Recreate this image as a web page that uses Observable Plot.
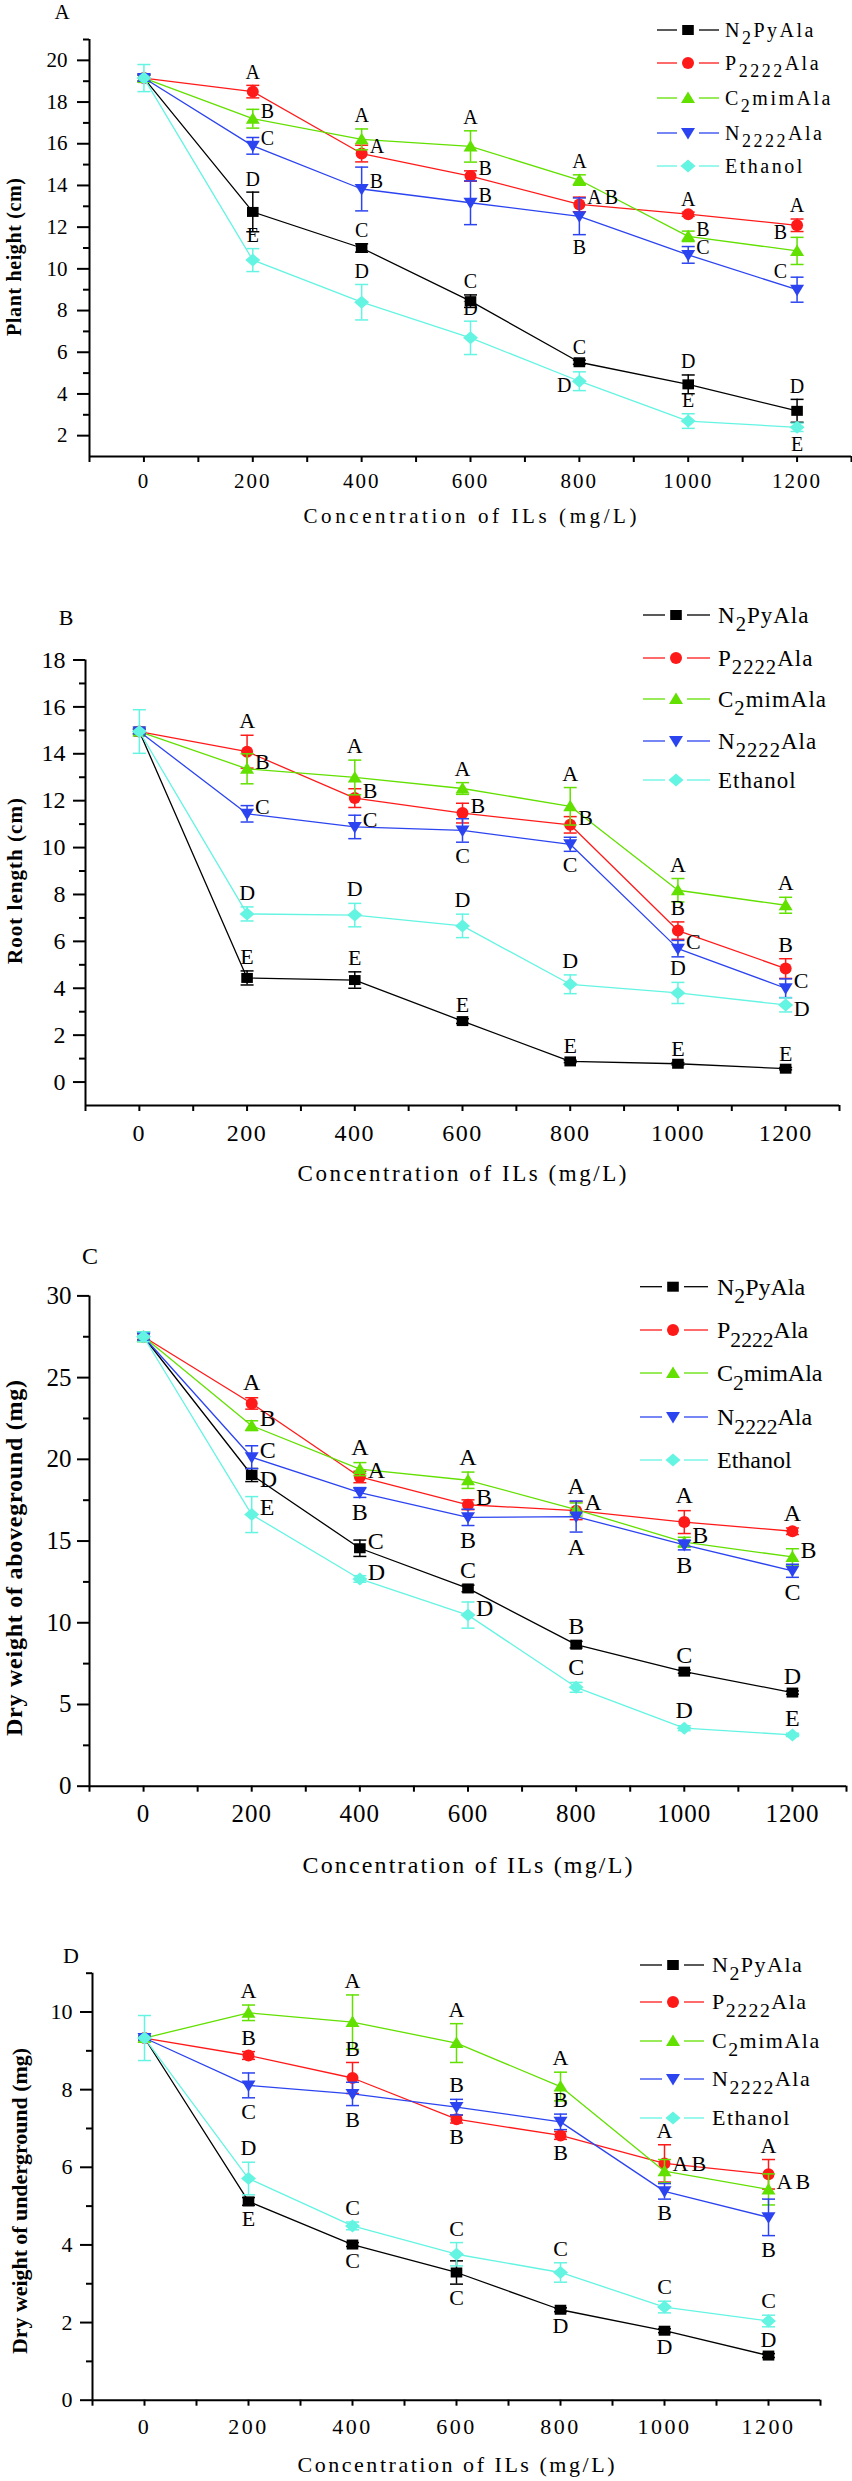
<!DOCTYPE html>
<html><head><meta charset="utf-8">
<script src="https://cdn.jsdelivr.net/npm/d3@7"></script>
<script src="https://cdn.jsdelivr.net/npm/@observablehq/plot@0.6"></script>
<style>
body{margin:0;background:#fff;}
#root{width:852px;}
#root svg{display:block;}
</style></head><body><div id="root"></div>
<script>
// ---------- shared data ----------
const conc = [0, 200, 400, 600, 800, 1000, 1200];
const minorConc = [-100, 100, 300, 500, 700, 900, 1100, 1300];
const seriesNames = ["N2PyAla", "P2222Ala", "C2mimAla", "N2222Ala", "Ethanol"];
const seriesColors = ["#000000", "#ff1a1a", "#62e000", "#2c44f0", "#64f4e2"];
const seriesSymbols = ["square", "circle", "triangle", "triangleDown", "diamond"];
const legendParts = [["N", "2", "PyAla"], ["P", "2222", "Ala"], ["C", "2", "mimAla"], ["N", "2222", "Ala"], ["Ethanol", "", ""]];
const xTitle = "Concentration of ILs (mg/L)";

// letter placement codes: t = above bar, b = below bar, r = right, rl = right-low, l = left, lt = left-high

// ---------- A: plant height ----------
const plantHeightMean = [
  [19.15, 12.73, 11.00, 8.45, 5.52, 4.46, 3.19],
  [19.15, 18.50, 15.53, 14.45, 13.09, 12.62, 12.09],
  [19.15, 17.20, 16.21, 15.87, 14.26, 11.56, 10.86],
  [19.15, 15.90, 13.83, 13.17, 12.52, 10.67, 9.00],
  [19.15, 10.42, 8.40, 6.69, 4.61, 2.70, 2.40]
];
const plantHeightSD = [
  [0.15, 0.95, 0.20, 0.30, 0.10, 0.45, 0.55],
  [0.15, 0.30, 0.40, 0.25, 0.35, 0.10, 0.30],
  [0.15, 0.45, 0.50, 0.75, 0.25, 0.25, 0.65],
  [0.15, 0.40, 1.05, 1.05, 0.88, 0.40, 0.60],
  [0.65, 0.55, 0.85, 0.80, 0.45, 0.35, 0.20]
];
const plantHeightLetters = [
  ["", "D", "C", "C", "C", "D", "D"],
  ["", "A", "A", "B", "AB", "A", "A"],
  ["", "B", "A", "A", "A", "B", "B"],
  ["", "C", "B", "B", "B", "C", "C"],
  ["", "E", "D", "D", "D", "E", "E"]
];
const plantHeightSides = [
  ["", "t", "t", "t", "t", "t", "t"],
  ["", "t", "r", "r", "r", "t", "t"],
  ["", "r", "t", "t", "t", "r", "lt"],
  ["", "r", "r", "r", "b", "r", "lt"],
  ["", "t", "t", "t", "l", "t", "b"]
];

// ---------- B: root length ----------
const rootLengthMean = [
  [14.95, 4.44, 4.35, 2.60, 0.88, 0.78, 0.57],
  [14.95, 14.09, 12.11, 11.47, 10.97, 6.46, 4.84],
  [14.95, 13.36, 12.99, 12.52, 11.76, 8.18, 7.54],
  [14.95, 11.44, 10.88, 10.73, 10.14, 5.69, 4.00],
  [14.95, 7.17, 7.12, 6.66, 4.17, 3.80, 3.29]
];
const rootLengthSD = [
  [0.10, 0.30, 0.35, 0.10, 0.05, 0.05, 0.05],
  [0.10, 0.70, 0.40, 0.42, 0.35, 0.37, 0.42],
  [0.10, 0.64, 0.74, 0.25, 0.80, 0.50, 0.34],
  [0.10, 0.35, 0.50, 0.50, 0.30, 0.35, 0.40],
  [0.93, 0.30, 0.50, 0.50, 0.40, 0.45, 0.30]
];
const rootLengthLetters = [
  ["", "E", "E", "E", "E", "E", "E"],
  ["", "A", "B", "B", "B", "B", "B"],
  ["", "B", "A", "A", "A", "A", "A"],
  ["", "C", "C", "C", "C", "C", "C"],
  ["", "D", "D", "D", "D", "D", "D"]
];
const rootLengthSides = [
  ["", "t", "t", "t", "t", "t", "t"],
  ["", "t", "r", "r", "r", "t", "t"],
  ["", "r", "t", "t", "t", "t", "t"],
  ["", "r", "r", "b", "b", "r", "r"],
  ["", "t", "t", "t", "t", "t", "rl"]
];

// ---------- C: dry weight of aboveground ----------
const aboveWeightMean = [
  [27.5, 19.04, 14.56, 12.10, 8.66, 7.01, 5.73],
  [27.5, 23.42, 18.92, 17.22, 16.86, 16.16, 15.60],
  [27.5, 22.06, 19.40, 18.72, 16.93, 14.93, 14.03],
  [27.5, 20.13, 17.97, 16.45, 16.50, 14.76, 13.18],
  [27.5, 16.62, 12.68, 10.47, 6.05, 3.55, 3.14]
];
const aboveWeightSD = [
  [0.20, 0.40, 0.50, 0.20, 0.20, 0.10, 0.10],
  [0.20, 0.35, 0.35, 0.30, 0.55, 0.70, 0.20],
  [0.30, 0.30, 0.40, 0.50, 0.40, 0.30, 0.50],
  [0.20, 0.70, 0.30, 0.50, 0.95, 0.30, 0.40],
  [0.30, 1.10, 0.20, 0.80, 0.30, 0.15, 0.10]
];
const aboveWeightLetters = [
  ["", "D", "C", "C", "B", "C", "D"],
  ["", "A", "A", "B", "A", "A", "A"],
  ["", "B", "A", "A", "A", "B", "B"],
  ["", "C", "B", "B", "A", "B", "C"],
  ["", "E", "D", "D", "C", "D", "E"]
];
const aboveWeightSides = [
  ["", "rl", "r", "t", "t", "t", "t"],
  ["", "t", "r", "r", "t", "t", "t"],
  ["", "r", "t", "t", "r", "r", "r"],
  ["", "r", "b", "b", "b", "b", "b"],
  ["", "r", "r", "r", "t", "t", "t"]
];

// ---------- D: dry weight of underground ----------
const belowWeightMean = [
  [9.33, 5.12, 4.01, 3.29, 2.33, 1.79, 1.15],
  [9.33, 8.88, 8.30, 7.24, 6.82, 6.10, 5.82],
  [9.33, 9.98, 9.74, 9.20, 8.08, 5.90, 5.43],
  [9.33, 8.11, 7.89, 7.55, 7.17, 5.38, 4.71],
  [9.33, 5.71, 4.49, 3.76, 3.29, 2.40, 2.04]
];
const belowWeightSD = [
  [0.05, 0.10, 0.05, 0.30, 0.05, 0.05, 0.05],
  [0.05, 0.10, 0.40, 0.10, 0.10, 0.48, 0.38],
  [0.05, 0.20, 0.70, 0.50, 0.37, 0.30, 0.40],
  [0.05, 0.32, 0.30, 0.20, 0.20, 0.20, 0.47],
  [0.58, 0.42, 0.10, 0.30, 0.25, 0.15, 0.15]
];
const belowWeightLetters = [
  ["", "E", "C", "C", "D", "D", "D"],
  ["", "B", "B", "B", "B", "A", "A"],
  ["", "A", "A", "A", "A", "AB", "AB"],
  ["", "C", "B", "B", "B", "B", "B"],
  ["", "D", "C", "C", "C", "C", "C"]
];
const belowWeightSides = [
  ["", "b", "b", "b", "b", "b", "t"],
  ["", "t", "t", "b", "b", "t", "t"],
  ["", "t", "t", "t", "t", "r", "r"],
  ["", "b", "b", "t", "t", "b", "b"],
  ["", "t", "t", "t", "t", "t", "t"]
];

// ---------- drawing ----------
const FONT = "'Liberation Serif', 'Times New Roman', serif";

function shape(kind, k) {
  return {
    draw(ctx) {
      if (kind === "square") ctx.rect(-5.8 * k, -5 * k, 11.6 * k, 10 * k);
      else if (kind === "circle") { ctx.moveTo(6 * k, 0); ctx.arc(0, 0, 6 * k, 0, 2 * Math.PI); }
      else if (kind === "triangle") { ctx.moveTo(0, -6.5 * k); ctx.lineTo(7 * k, 5 * k); ctx.lineTo(-7 * k, 5 * k); ctx.closePath(); }
      else if (kind === "triangleDown") { ctx.moveTo(0, 6.5 * k); ctx.lineTo(7 * k, -5 * k); ctx.lineTo(-7 * k, -5 * k); ctx.closePath(); }
      else if (kind === "diamond") { ctx.moveTo(0, -6.5 * k); ctx.lineTo(7.5 * k, 0); ctx.lineTo(0, 6.5 * k); ctx.lineTo(-7.5 * k, 0); ctx.closePath(); }
      else if (kind === "cap") { ctx.moveTo(-6.5 * k, 0); ctx.lineTo(6.5 * k, 0); }
    }
  };
}

function makePanel(cfg) {
  const rows = [];
  seriesNames.forEach((s, i) => conc.forEach((c, j) => rows.push({
    si: i, series: s, x: c, y: cfg.mean[i][j], e: cfg.sd[i][j],
    letter: cfg.letters[i][j], side: cfg.sides[i][j]
  })));
  const marks = [
    Plot.axisY({ticks: cfg.yMajor, tickSize: 12, tickPadding: cfg.yPad, strokeWidth: 2, fontSize: cfg.tickFont, tickFormat: d => String(d), label: null}),
    Plot.axisY({ticks: cfg.yMinor, tickSize: 6, strokeWidth: 2, tickFormat: () => "", label: null}),
    Plot.axisX({ticks: conc, tickSize: 6, tickPadding: cfg.xPad, strokeWidth: 2, fontSize: cfg.tickFont, tickFormat: d => String(d), label: null}),
    Plot.axisX({ticks: minorConc, tickSize: 6, strokeWidth: 2, tickFormat: () => "", label: null}),
    Plot.ruleX([-100], {strokeWidth: 2}),
    Plot.ruleY([cfg.yDomain[0]], {strokeWidth: 2})
  ];
  seriesNames.forEach((s, i) => {
    const d = rows.filter(r => r.si === i);
    const col = seriesColors[i];
    marks.push(Plot.line(d, {x: "x", y: "y", stroke: col, strokeWidth: 1.3}));
    marks.push(Plot.ruleX(d, {x: "x", y1: r => r.y - r.e, y2: r => r.y + r.e, stroke: col, strokeWidth: 1.5}));
    marks.push(Plot.dot(d, {x: "x", y: r => r.y + r.e, symbol: shape("cap", 1), fill: "none", stroke: col, strokeWidth: 1.5}));
    marks.push(Plot.dot(d, {x: "x", y: r => r.y - r.e, symbol: shape("cap", 1), fill: "none", stroke: col, strokeWidth: 1.5}));
    marks.push(Plot.dot(d, {x: "x", y: "y", symbol: shape(seriesSymbols[i], cfg.mk), fill: col, stroke: "none"}));
  });
  const lt = {text: "letter", fontSize: cfg.letterFont, fill: "black", lineAnchor: "middle", fontFamily: FONT};
  const L = rows.filter(r => r.letter);
  marks.push(Plot.text(L.filter(r => r.side === "t"), {...lt, x: "x", y: r => r.y + r.e, dy: -cfg.letterGap}));
  marks.push(Plot.text(L.filter(r => r.side === "b"), {...lt, x: "x", y: r => r.y - r.e, dy: cfg.letterGap}));
  marks.push(Plot.text(L.filter(r => r.side === "r"), {...lt, x: "x", y: "y", dx: 8, dy: -7, textAnchor: "start"}));
  marks.push(Plot.text(L.filter(r => r.side === "rl"), {...lt, x: "x", y: "y", dx: 8, dy: 4, textAnchor: "start"}));
  marks.push(Plot.text(L.filter(r => r.side === "l"), {...lt, x: "x", y: "y", dx: -8, dy: 4, textAnchor: "end"}));
  marks.push(Plot.text(L.filter(r => r.side === "lt"), {...lt, x: "x", y: "y", dx: -10, dy: -18, textAnchor: "end"}));

  const plot = Plot.plot({
    width: 852, height: cfg.H,
    marginLeft: cfg.mL, marginRight: cfg.mR, marginTop: cfg.mT, marginBottom: cfg.mB,
    x: {domain: [-100, 1300]},
    y: {domain: cfg.yDomain},
    style: {fontFamily: FONT, background: "white", overflow: "visible", color: "black"},
    marks
  });

  const svg = d3.select(plot);
  svg.selectAll('g[aria-label="x-axis tick label"] text').attr("letter-spacing", cfg.xTickLS);
  svg.selectAll('g[aria-label="text"] text').filter(function() { return this.textContent.length > 1; }).attr("letter-spacing", 3);

  const fw = 852 - cfg.mL - cfg.mR;
  // x title
  svg.append("text").attr("x", cfg.mL + fw / 2).attr("y", cfg.xTitleY)
    .attr("text-anchor", "middle").attr("dominant-baseline", "central")
    .attr("font-family", FONT).attr("font-size", cfg.xTitleFont)
    .attr("textLength", cfg.xTitleLen).attr("lengthAdjust", "spacing")
    .text(xTitle);
  // y title
  svg.append("text").attr("transform", `translate(${cfg.yTitleX},${cfg.yTitleY}) rotate(-90)`)
    .attr("text-anchor", "middle").attr("dominant-baseline", "central")
    .attr("font-family", FONT).attr("font-size", cfg.yTitleFont).attr("font-weight", "bold")
    .attr("textLength", cfg.yTitleLen).attr("lengthAdjust", "spacing")
    .text(cfg.yTitle);
  // panel label
  svg.append("text").attr("x", cfg.labelX).attr("y", cfg.labelY)
    .attr("text-anchor", "middle").attr("dominant-baseline", "central")
    .attr("font-family", FONT).attr("font-size", cfg.labelFont)
    .text(cfg.label);
  // legend
  const lg = svg.append("g").attr("text-anchor", "start");
  seriesNames.forEach((s, i) => {
    const y = cfg.legRows[i];
    const col = seriesColors[i];
    lg.append("line").attr("x1", cfg.legX0).attr("x2", cfg.legM - 11).attr("y1", y).attr("y2", y).attr("stroke", col).attr("stroke-width", 1.3);
    lg.append("line").attr("x1", cfg.legM + 11).attr("x2", cfg.legX1).attr("y1", y).attr("y2", y).attr("stroke", col).attr("stroke-width", 1.3);
    const p = d3.path();
    shape(seriesSymbols[i], cfg.mk).draw(p);
    lg.append("path").attr("d", p.toString()).attr("transform", `translate(${cfg.legM},${y})`).attr("fill", col);
    const t = lg.append("text").attr("x", cfg.legT).attr("y", y).attr("text-anchor", "start")
      .attr("dy", "0.33em")
      .attr("font-family", FONT).attr("font-size", cfg.legFont).attr("letter-spacing", cfg.legLS);
    const [a, sub, b] = legendParts[i];
    t.append("tspan").text(a);
    if (sub) {
      t.append("tspan").attr("dy", "0.4em").attr("font-size", cfg.legFont * 0.9).text(sub);
      t.append("tspan").attr("dy", "-0.36em").text(b);
    }
  });
  return plot;
}

const panels = [
  {label: "A", H: 580, mL: 89, mR: 1, mT: 39, mB: 124, yDomain: [1, 21],
   yMajor: d3.range(2, 21, 2), yMinor: d3.range(3, 22, 2), yPad: 10, xPad: 11,
   mean: plantHeightMean, sd: plantHeightSD, letters: plantHeightLetters, sides: plantHeightSides,
   tickFont: 21, xTickLS: 2, letterFont: 20, letterGap: 13, mk: 1,
   xTitleY: 516, xTitleFont: 21, xTitleLen: 333,
   yTitle: "Plant height (cm)", yTitleX: 14, yTitleY: 257, yTitleFont: 20, yTitleLen: 158,
   labelX: 62, labelY: 12, labelFont: 21,
   legRows: [30, 63, 98, 133, 166], legX0: 657, legX1: 719, legM: 688, legT: 725, legFont: 20, legLS: 2.5},
  {label: "B", H: 640, mL: 85, mR: 13, mT: 79.5, mB: 115, yDomain: [-1, 18],
   yMajor: d3.range(0, 19, 2), yMinor: d3.range(1, 18, 2), yPad: 8, xPad: 12,
   mean: rootLengthMean, sd: rootLengthSD, letters: rootLengthLetters, sides: rootLengthSides,
   tickFont: 24, xTickLS: 1.5, letterFont: 22, letterGap: 14, mk: 1,
   xTitleY: 593, xTitleFont: 23, xTitleLen: 329,
   yTitle: "Root length (cm)", yTitleX: 15, yTitleY: 301, yTitleFont: 21, yTitleLen: 166,
   labelX: 66, labelY: 37, labelFont: 22,
   legRows: [35, 78, 119, 161, 200], legX0: 643, legX1: 710, legM: 676, legT: 718, legFont: 23, legLS: 1},
  {label: "C", H: 700, mL: 89, mR: 6, mT: 75.4, mB: 134.3, yDomain: [0, 30],
   yMajor: d3.range(0, 31, 5), yMinor: d3.range(2.5, 30, 5), yPad: 6, xPad: 12.5,
   mean: aboveWeightMean, sd: aboveWeightSD, letters: aboveWeightLetters, sides: aboveWeightSides,
   tickFont: 25, xTickLS: 1, letterFont: 24, letterGap: 15, mk: 1,
   xTitleY: 645, xTitleFont: 24, xTitleLen: 330,
   yTitle: "Dry weight of aboveground (mg)", yTitleX: 14, yTitleY: 338, yTitleFont: 24, yTitleLen: 356,
   labelX: 90, labelY: 36, labelFont: 24,
   legRows: [66.7, 110, 153, 197, 240], legX0: 640, legX1: 708, legM: 673, legT: 717, legFont: 24, legLS: 0},
  {label: "D", H: 561, mL: 92, mR: 32, mT: 52.7, mB: 81.3, yDomain: [0, 11],
   yMajor: d3.range(0, 11, 2), yMinor: d3.range(1, 12, 2), yPad: 8, xPad: 12,
   mean: belowWeightMean, sd: belowWeightSD, letters: belowWeightLetters, sides: belowWeightSides,
   tickFont: 22, xTickLS: 2.5, letterFont: 22, letterGap: 14, mk: 1,
   xTitleY: 544, xTitleFont: 22, xTitleLen: 317,
   yTitle: "Dry weight of underground (mg)", yTitleX: 19, yTitleY: 281, yTitleFont: 22, yTitleLen: 306,
   labelX: 71, labelY: 35, labelFont: 22,
   legRows: [45, 82, 121, 159, 198], legX0: 640, legX1: 704, legM: 673, legT: 712, legFont: 22, legLS: 1.5}
];

const root = document.getElementById("root");
panels.forEach(cfg => root.appendChild(makePanel(cfg)));
</script>
</body></html>
